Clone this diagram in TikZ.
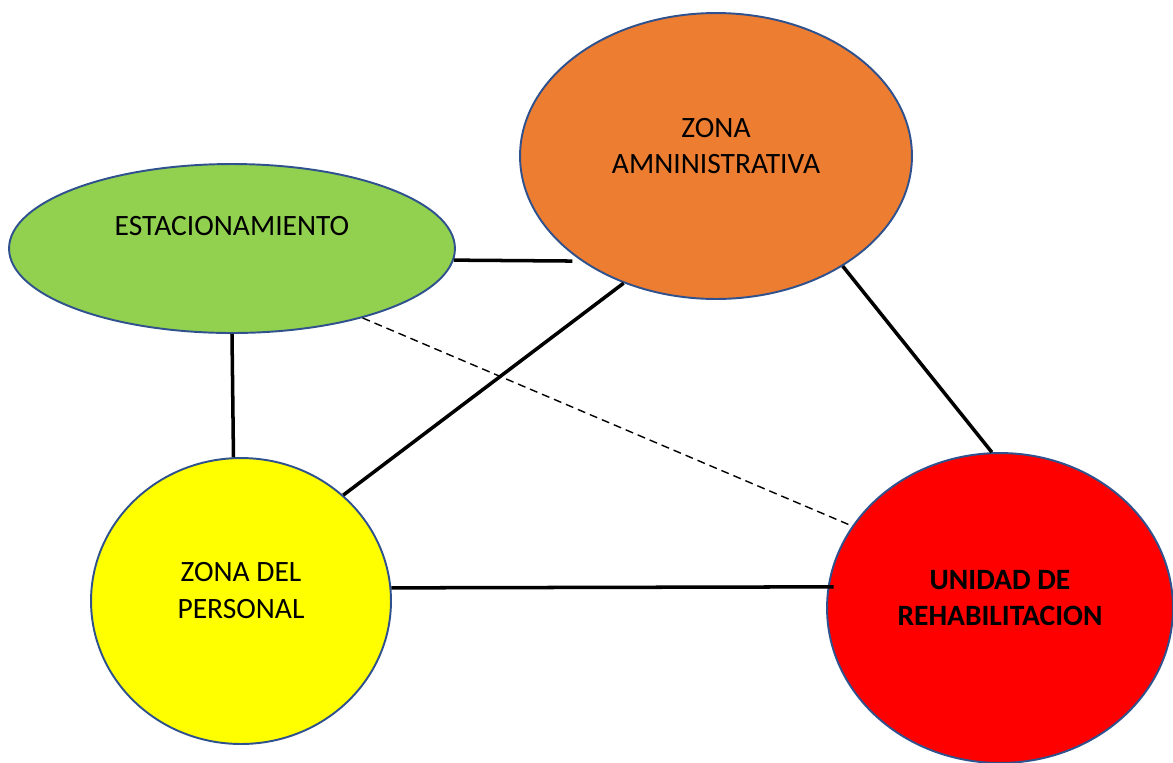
\documentclass[tikz,border=0pt]{standalone}
\usepackage{fontspec}
\setmainfont{Carlito}
\usepackage{tikz}
\usetikzlibrary{shapes.geometric}

\definecolor{verde}{HTML}{92D050}
\definecolor{naranja}{HTML}{ED7D31}
\definecolor{amarillo}{HTML}{FFFF00}
\definecolor{rojo}{HTML}{FF0000}
\definecolor{borde}{HTML}{2F528F}

\begin{document}
\begin{tikzpicture}[x=0.02cm, y=-0.02cm, every node/.style={font=\fontsize{16.8}{21}\selectfont},
  zona/.style={ellipse, draw=borde, line width=1.1pt, inner sep=0pt},
  enlace/.style={line width=2pt},
  enlacedash/.style={line width=0.8pt, dash pattern=on 0.16cm off 0.1cm}]

\useasboundingbox (0,0) rectangle (1173,762);
\clip (0,0) rectangle (1173,762);

% Zonas
\node[zona, fill=verde, minimum width=8.92cm, minimum height=3.38cm,
  label={[yshift=0.44cm]center:ESTACIONAMIENTO}] (est) at (232,248.5) {};
\node[zona, fill=naranja, minimum width=7.84cm, minimum height=5.72cm,
  label={[align=center, yshift=0.2cm]center:{ZONA\\AMNINISTRATIVA}}] (adm) at (716,156) {};
\node[zona, fill=amarillo, minimum width=6cm, minimum height=5.72cm,
  label={[align=center, yshift=0.21cm]center:{ZONA DEL\\PERSONAL}}] (per) at (241,601) {};
\node[zona, fill=rojo, minimum width=6.92cm, minimum height=6.2cm,
  label={[align=center, yshift=0.2cm, font=\fontsize{16.8}{21}\selectfont\bfseries]center:{UNIDAD DE\\REHABILITACION}}] (reh) at (1000,608) {};

% Relaciones directas
\draw[enlace, shorten >=0.18cm] (est.-3.6) -- (adm.218.3);
\draw[enlace] (est.south) -- (per.93);
\draw[enlace] (adm.234) -- (per.46);
\draw[enlace] (adm.-41.5) -- (reh.93.7);
\draw[enlace, shorten >=-0.12cm] (per.5) -- (reh.173);

% Relacion indirecta
\draw[enlacedash] (est.-28) -- (reh.151);

\end{tikzpicture}
\end{document}
